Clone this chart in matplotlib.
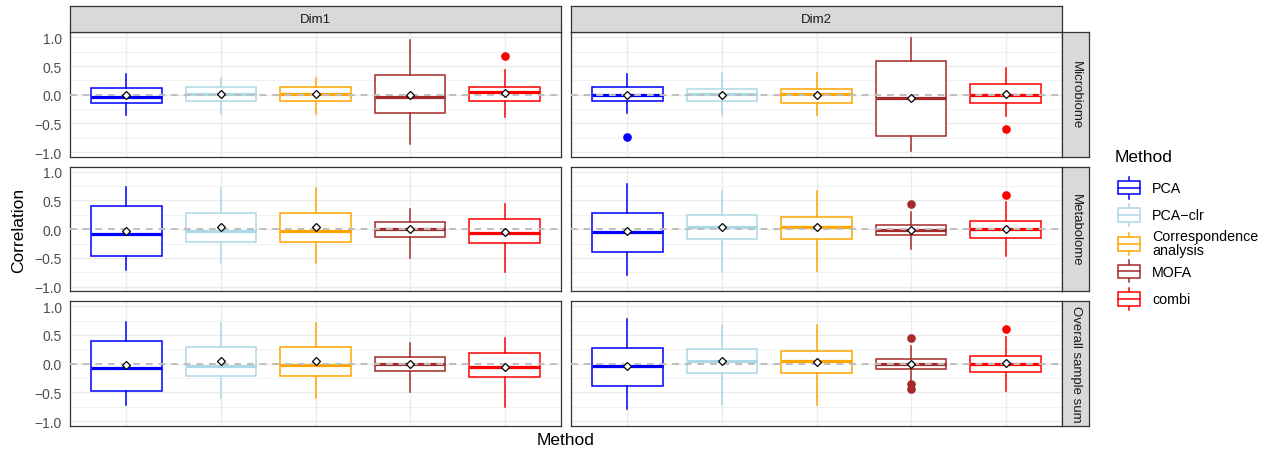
import matplotlib
matplotlib.use("Agg")
import matplotlib.pyplot as plt
from matplotlib.patches import Rectangle, Patch
from matplotlib.lines import Line2D
from matplotlib.legend_handler import HandlerBase
from matplotlib.ticker import FixedLocator, FuncFormatter

plt.rcParams['font.family'] = ['Liberation Sans', 'DejaVu Sans']

methods = ["PCA", "PCA\u2212clr", "Correspondence\nanalysis", "MOFA", "combi"]
colors = ["blue", "lightblue", "orange", "brown", "red"]
dims = ["Dim1", "Dim2"]
blocks = ["Microbiome", "Metabolome", "Overall sample sum"]

# rows: Microbiome Dim1, Microbiome Dim2, Metabolome Dim1, Metabolome Dim2,
#       Overall Dim1, Overall Dim2 ; columns follow `methods`
whisker_low = [
    [-0.35, -0.33, -0.33, -0.86, -0.38],
    [-0.32, -0.36, -0.36, -0.98, -0.37],
    [-0.71, -0.59, -0.59, -0.50, -0.75],
    [-0.79, -0.72, -0.72, -0.34, -0.47],
    [-0.71, -0.60, -0.60, -0.49, -0.75],
    [-0.79, -0.72, -0.72, -0.31, -0.47],
]
q1 = [
    [-0.14, -0.11, -0.11, -0.32, -0.10],
    [-0.10, -0.10, -0.14, -0.71, -0.14],
    [-0.47, -0.22, -0.22, -0.13, -0.24],
    [-0.39, -0.17, -0.17, -0.10, -0.15],
    [-0.47, -0.22, -0.22, -0.13, -0.24],
    [-0.39, -0.17, -0.17, -0.09, -0.15],
]
median = [
    [-0.03, 0.01, 0.02, -0.04, 0.05],
    [0.00, 0.02, 0.02, -0.06, 0.00],
    [-0.08, -0.03, -0.03, 0.00, -0.07],
    [-0.05, 0.04, 0.04, -0.01, 0.00],
    [-0.07, -0.04, -0.03, 0.00, -0.06],
    [-0.04, 0.04, 0.04, 0.00, 0.00],
]
q3 = [
    [0.11, 0.14, 0.14, 0.34, 0.14],
    [0.14, 0.10, 0.10, 0.59, 0.18],
    [0.40, 0.29, 0.29, 0.13, 0.18],
    [0.28, 0.25, 0.22, 0.07, 0.14],
    [0.40, 0.29, 0.29, 0.12, 0.18],
    [0.28, 0.25, 0.22, 0.09, 0.14],
]
whisker_high = [
    [0.37, 0.29, 0.29, 0.96, 0.43],
    [0.37, 0.38, 0.38, 0.99, 0.46],
    [0.73, 0.71, 0.71, 0.36, 0.44],
    [0.78, 0.67, 0.67, 0.30, 0.47],
    [0.73, 0.71, 0.71, 0.36, 0.44],
    [0.78, 0.67, 0.67, 0.30, 0.47],
]
means = [
    [-0.01, 0.01, 0.01, 0.00, 0.03],
    [0.00, 0.00, -0.01, -0.05, 0.02],
    [-0.03, 0.04, 0.04, 0.00, -0.05],
    [-0.03, 0.04, 0.03, -0.01, 0.01],
    [-0.03, 0.04, 0.04, 0.00, -0.05],
    [-0.04, 0.04, 0.03, 0.00, 0.01],
]
outliers = [
    [[], [], [], [], [0.68]],
    [[-0.73], [], [], [], [-0.60]],
    [[], [], [], [], []],
    [[], [], [], [0.44], [0.60]],
    [[], [], [], [], []],
    [[], [], [], [0.44, -0.36, -0.44], [0.61]],
]

W, H = 1270, 456
fig = plt.figure(figsize=(W / 100, H / 100), dpi=100)


def px_axes(x0, y0, x1, y1):
    return fig.add_axes([x0 / W, 1 - y1 / H, (x1 - x0) / W, (y1 - y0) / H])


# shared y scale like ggplot (5% expansion of data range)
all_vals = [v for row in whisker_low + whisker_high for v in row]
all_vals += [v for p in outliers for m in p for v in m]
lo, hi = min(all_vals), max(all_vals)
pad = 0.05 * (hi - lo)
ylim = (lo - pad, hi + pad)

col_x = [(69.7, 561.3), (570.7, 1062.3)]
row_y = [(33.3, 157.7), (167.7, 292.1), (302.1, 426.7)]
border = '#333333'

for r, block in enumerate(blocks):
    for c, dim in enumerate(dims):
        p = r * 2 + c
        ax = px_axes(col_x[c][0], row_y[r][0], col_x[c][1], row_y[r][1])
        ax.set_xlim(0.4, 5.6)
        ax.set_ylim(*ylim)
        ax.set_axisbelow(True)
        for k, col in enumerate(colors):
            st = dict(whislo=whisker_low[p][k], q1=q1[p][k], med=median[p][k],
                      q3=q3[p][k], whishi=whisker_high[p][k], mean=means[p][k],
                      fliers=outliers[p][k])
            res = ax.bxp([st], positions=[k + 1], widths=0.75, showmeans=True,
                         showcaps=False, patch_artist=True, manage_ticks=False,
                         boxprops=dict(facecolor='white', edgecolor=col, linewidth=1.1),
                         whiskerprops=dict(color=col, linewidth=1.1),
                         medianprops=dict(color=col, linewidth=2.3, solid_capstyle='butt'),
                         meanprops=dict(marker='D', markerfacecolor='white',
                                        markeredgecolor='black', markersize=4.2,
                                        markeredgewidth=0.9),
                         flierprops=dict(marker='o', markerfacecolor=col,
                                         markeredgecolor=col, markersize=5.2))
            res['means'][0].set_zorder(5)
        ax.axhline(0, color='#BEBEBE', lw=1.4, ls=(0, (3.5, 3)), zorder=4)

        ax.xaxis.set_major_locator(FixedLocator([1, 2, 3, 4, 5]))
        ax.yaxis.set_major_locator(FixedLocator([-1, -0.5, 0, 0.5, 1]))
        ax.yaxis.set_minor_locator(FixedLocator([-0.75, -0.25, 0.25, 0.75]))
        ax.yaxis.set_major_formatter(FuncFormatter(lambda v, _: f"{v:.1f}".replace('-', '\u2212')))
        ax.grid(which='major', color='#EBEBEB', lw=1.0)
        ax.grid(which='minor', axis='y', color='#EBEBEB', lw=0.5)
        ax.tick_params(which='both', length=0, labelbottom=False, labelleft=(c == 0),
                       labelsize=10, labelcolor='#4D4D4D', pad=5.8)
        for s in ax.spines.values():
            s.set_color(border)
            s.set_linewidth(0.9)

        if r == 0:
            sx = px_axes(col_x[c][0], 7.3, col_x[c][1], 33.3)
            sx.set_facecolor('#D9D9D9')
            sx.set_xticks([])
            sx.set_yticks([])
            for s in sx.spines.values():
                s.set_color(border)
                s.set_linewidth(0.9)
            sx.text(0.5, 0.5, dim, ha='center', va='center', fontsize=9.5,
                    color='#1A1A1A', transform=sx.transAxes)

    sy = px_axes(1062.3, row_y[r][0], 1089, row_y[r][1])
    sy.set_facecolor('#D9D9D9')
    sy.set_xticks([])
    sy.set_yticks([])
    for s in sy.spines.values():
        s.set_color(border)
        s.set_linewidth(0.9)
    sy.text(0.5, 0.5, block, ha='center', va='center', rotation=270, fontsize=9.5,
            color='#1A1A1A', transform=sy.transAxes)

fig.text(18.8 / W, 1 - 230 / H, "Correlation", rotation=90, ha='center', va='center',
         fontsize=12.5)
fig.text(566 / W, 1 - 441 / H, "Method", ha='center', va='center', fontsize=12.5)


class BoxKey(HandlerBase):
    def create_artists(self, legend, orig_handle, xdescent, ydescent, width, height,
                       fontsize, trans):
        col = orig_handle.get_edgecolor()
        x0, y0 = -xdescent, -ydescent
        xm = x0 + width / 2
        box = Rectangle((x0 + 0.1 * width, y0 + 0.25 * height), 0.8 * width, 0.5 * height,
                        facecolor='white', edgecolor=col, lw=1.1, transform=trans)
        w_lo = Line2D([xm, xm], [y0 + 0.1 * height, y0 + 0.25 * height], color=col,
                      lw=1.1, transform=trans)
        w_hi = Line2D([xm, xm], [y0 + 0.75 * height, y0 + 0.9 * height], color=col,
                      lw=1.1, transform=trans)
        med = Line2D([x0 + 0.1 * width, x0 + 0.9 * width], [y0 + 0.5 * height] * 2,
                     color=col, lw=1.1, transform=trans)
        return [w_lo, w_hi, box, med]


handles = [Patch(facecolor='white', edgecolor=col) for col in colors]
leg_fs = 10.3
fs_px = leg_fs * 100 / 72
key_h = (27.5 / fs_px - 0.245) / 0.65
leg = fig.legend(handles, methods, handler_map={Patch: BoxKey()}, loc='upper left',
                 bbox_to_anchor=(1115.5 / W, 1 - 174.8 / H), frameon=False, fontsize=leg_fs,
                 handlelength=27.5 / fs_px, handleheight=key_h, handletextpad=0.63,
                 labelspacing=0, borderpad=0, borderaxespad=0)
for t in leg.get_texts():
    if '\n' in t.get_text():
        t.set_linespacing(1.0)
fig.text(1115 / W, 1 - 157 / H, "Method", ha='left', va='center', fontsize=12.5)

fig.savefig("out.png", dpi=100)
